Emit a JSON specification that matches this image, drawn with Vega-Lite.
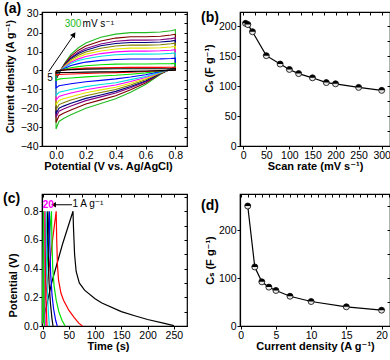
{
"$schema":"https://vega.github.io/schema/vega-lite/v6.json",
"padding":{"left":2,"top":1,"right":0,"bottom":0},
"columns":2,
"spacing":{"row":48,"column":53},
"bounds":"flush",
"config":{
 "font":"Liberation Sans, DejaVu Sans, sans-serif",
 "view":{"stroke":"black","strokeWidth":1.2},
 "axis":{"grid":false,"domainColor":"black","tickColor":"black","labelColor":"black","titleColor":"black","labelFontSize":10.5,"titleFontSize":11,"titleFontWeight":"bold","tickSize":3,"labelPadding":1,"domainWidth":1.2,"tickWidth":1,"titlePadding":0,"labelFlush":false,"labelOverlap":false},
 "title":{"fontSize":14,"fontWeight":"bold","anchor":"start","frame":"group","color":"black","baseline":"bottom","offset":0}
},
"concat":[
{
 "width":145,"height":134,
 "title":{"text":"(a)","dx":-38,"dy":11},
 "resolve":{"axis":{"x":"independent","y":"independent"}},
 "layer":[
 {"data":{"values":[
{"r":300,"o":0,"x":0,"y":-5},{"r":300,"o":1,"x":0.03,"y":0},{"r":300,"o":2,"x":0.06,"y":4},{"r":300,"o":3,"x":0.1,"y":8.5},{"r":300,"o":4,"x":0.15,"y":12},{"r":300,"o":5,"x":0.2,"y":14.5},{"r":300,"o":6,"x":0.3,"y":17.5},{"r":300,"o":7,"x":0.4,"y":19.2},{"r":300,"o":8,"x":0.5,"y":20},{"r":300,"o":9,"x":0.6,"y":20},{"r":300,"o":10,"x":0.7,"y":20.3},{"r":300,"o":11,"x":0.77,"y":21},{"r":300,"o":12,"x":0.8,"y":21.5},{"r":300,"o":13,"x":0.8,"y":2},{"r":300,"o":14,"x":0.76,"y":0.5},{"r":300,"o":15,"x":0.7,"y":-2},{"r":300,"o":16,"x":0.6,"y":-7.5},{"r":300,"o":17,"x":0.5,"y":-11.5},{"r":300,"o":18,"x":0.4,"y":-15},{"r":300,"o":19,"x":0.3,"y":-17.5},{"r":300,"o":20,"x":0.2,"y":-20},{"r":300,"o":21,"x":0.1,"y":-23.5},{"r":300,"o":22,"x":0.05,"y":-25.5},{"r":300,"o":23,"x":0.02,"y":-27},{"r":300,"o":24,"x":0,"y":-31},{"r":300,"o":25,"x":0,"y":-5},
{"r":250,"o":0,"x":0,"y":-4.5},{"r":250,"o":1,"x":0.03,"y":0},{"r":250,"o":2,"x":0.06,"y":3.6},{"r":250,"o":3,"x":0.1,"y":7.6},{"r":250,"o":4,"x":0.15,"y":10.7},{"r":250,"o":5,"x":0.2,"y":12.9},{"r":250,"o":6,"x":0.3,"y":15.6},{"r":250,"o":7,"x":0.4,"y":17.1},{"r":250,"o":8,"x":0.5,"y":17.8},{"r":250,"o":9,"x":0.6,"y":17.8},{"r":250,"o":10,"x":0.7,"y":18.1},{"r":250,"o":11,"x":0.77,"y":18.7},{"r":250,"o":12,"x":0.8,"y":19.1},{"r":250,"o":13,"x":0.8,"y":1.8},{"r":250,"o":14,"x":0.76,"y":0.4},{"r":250,"o":15,"x":0.7,"y":-1.8},{"r":250,"o":16,"x":0.6,"y":-6.7},{"r":250,"o":17,"x":0.5,"y":-10.2},{"r":250,"o":18,"x":0.4,"y":-13.4},{"r":250,"o":19,"x":0.3,"y":-15.6},{"r":250,"o":20,"x":0.2,"y":-17.8},{"r":250,"o":21,"x":0.1,"y":-20.9},{"r":250,"o":22,"x":0.05,"y":-22.7},{"r":250,"o":23,"x":0.02,"y":-24},{"r":250,"o":24,"x":0,"y":-27.6},{"r":250,"o":25,"x":0,"y":-4.5},
{"r":200,"o":0,"x":0,"y":-4},{"r":200,"o":1,"x":0.03,"y":0},{"r":200,"o":2,"x":0.06,"y":3.2},{"r":200,"o":3,"x":0.1,"y":6.8},{"r":200,"o":4,"x":0.15,"y":9.6},{"r":200,"o":5,"x":0.2,"y":11.6},{"r":200,"o":6,"x":0.3,"y":14},{"r":200,"o":7,"x":0.4,"y":15.4},{"r":200,"o":8,"x":0.5,"y":16},{"r":200,"o":9,"x":0.6,"y":16},{"r":200,"o":10,"x":0.7,"y":16.2},{"r":200,"o":11,"x":0.77,"y":16.8},{"r":200,"o":12,"x":0.8,"y":17.2},{"r":200,"o":13,"x":0.8,"y":1.6},{"r":200,"o":14,"x":0.76,"y":0.4},{"r":200,"o":15,"x":0.7,"y":-1.6},{"r":200,"o":16,"x":0.6,"y":-6},{"r":200,"o":17,"x":0.5,"y":-9.2},{"r":200,"o":18,"x":0.4,"y":-12},{"r":200,"o":19,"x":0.3,"y":-14},{"r":200,"o":20,"x":0.2,"y":-16},{"r":200,"o":21,"x":0.1,"y":-18.8},{"r":200,"o":22,"x":0.05,"y":-20.4},{"r":200,"o":23,"x":0.02,"y":-21.6},{"r":200,"o":24,"x":0,"y":-24.8},{"r":200,"o":25,"x":0,"y":-4},
{"r":180,"o":0,"x":0,"y":-3.7},{"r":180,"o":1,"x":0.03,"y":0},{"r":180,"o":2,"x":0.06,"y":3},{"r":180,"o":3,"x":0.1,"y":6.3},{"r":180,"o":4,"x":0.15,"y":8.9},{"r":180,"o":5,"x":0.2,"y":10.7},{"r":180,"o":6,"x":0.3,"y":13},{"r":180,"o":7,"x":0.4,"y":14.2},{"r":180,"o":8,"x":0.5,"y":14.8},{"r":180,"o":9,"x":0.6,"y":14.8},{"r":180,"o":10,"x":0.7,"y":15},{"r":180,"o":11,"x":0.77,"y":15.5},{"r":180,"o":12,"x":0.8,"y":15.9},{"r":180,"o":13,"x":0.8,"y":1.5},{"r":180,"o":14,"x":0.76,"y":0.4},{"r":180,"o":15,"x":0.7,"y":-1.5},{"r":180,"o":16,"x":0.6,"y":-5.6},{"r":180,"o":17,"x":0.5,"y":-8.5},{"r":180,"o":18,"x":0.4,"y":-11.1},{"r":180,"o":19,"x":0.3,"y":-13},{"r":180,"o":20,"x":0.2,"y":-14.8},{"r":180,"o":21,"x":0.1,"y":-17.4},{"r":180,"o":22,"x":0.05,"y":-18.9},{"r":180,"o":23,"x":0.02,"y":-20},{"r":180,"o":24,"x":0,"y":-22.9},{"r":180,"o":25,"x":0,"y":-3.7},
{"r":150,"o":0,"x":0,"y":-3.4},{"r":150,"o":1,"x":0.03,"y":0},{"r":150,"o":2,"x":0.06,"y":2.7},{"r":150,"o":3,"x":0.1,"y":5.7},{"r":150,"o":4,"x":0.15,"y":8},{"r":150,"o":5,"x":0.2,"y":9.7},{"r":150,"o":6,"x":0.3,"y":11.7},{"r":150,"o":7,"x":0.4,"y":12.9},{"r":150,"o":8,"x":0.5,"y":13.4},{"r":150,"o":9,"x":0.6,"y":13.4},{"r":150,"o":10,"x":0.7,"y":13.6},{"r":150,"o":11,"x":0.77,"y":14.1},{"r":150,"o":12,"x":0.8,"y":14.4},{"r":150,"o":13,"x":0.8,"y":1.3},{"r":150,"o":14,"x":0.76,"y":0.3},{"r":150,"o":15,"x":0.7,"y":-1.3},{"r":150,"o":16,"x":0.6,"y":-5},{"r":150,"o":17,"x":0.5,"y":-7.7},{"r":150,"o":18,"x":0.4,"y":-10.1},{"r":150,"o":19,"x":0.3,"y":-11.7},{"r":150,"o":20,"x":0.2,"y":-13.4},{"r":150,"o":21,"x":0.1,"y":-15.7},{"r":150,"o":22,"x":0.05,"y":-17.1},{"r":150,"o":23,"x":0.02,"y":-18.1},{"r":150,"o":24,"x":0,"y":-20.8},{"r":150,"o":25,"x":0,"y":-3.4},
{"r":120,"o":0,"x":0,"y":-3},{"r":120,"o":1,"x":0.03,"y":0},{"r":120,"o":2,"x":0.06,"y":2.4},{"r":120,"o":3,"x":0.1,"y":5},{"r":120,"o":4,"x":0.15,"y":7.1},{"r":120,"o":5,"x":0.2,"y":8.6},{"r":120,"o":6,"x":0.3,"y":10.3},{"r":120,"o":7,"x":0.4,"y":11.3},{"r":120,"o":8,"x":0.5,"y":11.8},{"r":120,"o":9,"x":0.6,"y":11.8},{"r":120,"o":10,"x":0.7,"y":12},{"r":120,"o":11,"x":0.77,"y":12.4},{"r":120,"o":12,"x":0.8,"y":12.7},{"r":120,"o":13,"x":0.8,"y":1.2},{"r":120,"o":14,"x":0.76,"y":0.3},{"r":120,"o":15,"x":0.7,"y":-1.2},{"r":120,"o":16,"x":0.6,"y":-4.4},{"r":120,"o":17,"x":0.5,"y":-6.8},{"r":120,"o":18,"x":0.4,"y":-8.9},{"r":120,"o":19,"x":0.3,"y":-10.3},{"r":120,"o":20,"x":0.2,"y":-11.8},{"r":120,"o":21,"x":0.1,"y":-13.9},{"r":120,"o":22,"x":0.05,"y":-15},{"r":120,"o":23,"x":0.02,"y":-15.9},{"r":120,"o":24,"x":0,"y":-18.3},{"r":120,"o":25,"x":0,"y":-3},
{"r":100,"o":0,"x":0,"y":-2.6},{"r":100,"o":1,"x":0.03,"y":0},{"r":100,"o":2,"x":0.06,"y":2},{"r":100,"o":3,"x":0.1,"y":4.3},{"r":100,"o":4,"x":0.15,"y":6.1},{"r":100,"o":5,"x":0.2,"y":7.4},{"r":100,"o":6,"x":0.3,"y":8.9},{"r":100,"o":7,"x":0.4,"y":9.8},{"r":100,"o":8,"x":0.5,"y":10.2},{"r":100,"o":9,"x":0.6,"y":10.2},{"r":100,"o":10,"x":0.7,"y":10.4},{"r":100,"o":11,"x":0.77,"y":10.7},{"r":100,"o":12,"x":0.8,"y":11},{"r":100,"o":13,"x":0.8,"y":1},{"r":100,"o":14,"x":0.76,"y":0.3},{"r":100,"o":15,"x":0.7,"y":-1},{"r":100,"o":16,"x":0.6,"y":-3.8},{"r":100,"o":17,"x":0.5,"y":-5.9},{"r":100,"o":18,"x":0.4,"y":-7.7},{"r":100,"o":19,"x":0.3,"y":-8.9},{"r":100,"o":20,"x":0.2,"y":-10.2},{"r":100,"o":21,"x":0.1,"y":-12},{"r":100,"o":22,"x":0.05,"y":-13},{"r":100,"o":23,"x":0.02,"y":-13.8},{"r":100,"o":24,"x":0,"y":-15.8},{"r":100,"o":25,"x":0,"y":-2.6},
{"r":80,"o":0,"x":0,"y":-2.2},{"r":80,"o":1,"x":0.03,"y":0},{"r":80,"o":2,"x":0.06,"y":1.7},{"r":80,"o":3,"x":0.1,"y":3.7},{"r":80,"o":4,"x":0.15,"y":5.2},{"r":80,"o":5,"x":0.2,"y":6.2},{"r":80,"o":6,"x":0.3,"y":7.5},{"r":80,"o":7,"x":0.4,"y":8.3},{"r":80,"o":8,"x":0.5,"y":8.6},{"r":80,"o":9,"x":0.6,"y":8.6},{"r":80,"o":10,"x":0.7,"y":8.7},{"r":80,"o":11,"x":0.77,"y":9},{"r":80,"o":12,"x":0.8,"y":9.2},{"r":80,"o":13,"x":0.8,"y":0.9},{"r":80,"o":14,"x":0.76,"y":0.2},{"r":80,"o":15,"x":0.7,"y":-0.9},{"r":80,"o":16,"x":0.6,"y":-3.2},{"r":80,"o":17,"x":0.5,"y":-4.9},{"r":80,"o":18,"x":0.4,"y":-6.5},{"r":80,"o":19,"x":0.3,"y":-7.5},{"r":80,"o":20,"x":0.2,"y":-8.6},{"r":80,"o":21,"x":0.1,"y":-10.1},{"r":80,"o":22,"x":0.05,"y":-11},{"r":80,"o":23,"x":0.02,"y":-11.6},{"r":80,"o":24,"x":0,"y":-13.3},{"r":80,"o":25,"x":0,"y":-2.2},
{"r":50,"o":0,"x":0,"y":-1.5},{"r":50,"o":1,"x":0.03,"y":0},{"r":50,"o":2,"x":0.06,"y":1.2},{"r":50,"o":3,"x":0.1,"y":2.6},{"r":50,"o":4,"x":0.15,"y":3.6},{"r":50,"o":5,"x":0.2,"y":4.4},{"r":50,"o":6,"x":0.3,"y":5.3},{"r":50,"o":7,"x":0.4,"y":5.8},{"r":50,"o":8,"x":0.5,"y":6},{"r":50,"o":9,"x":0.6,"y":6},{"r":50,"o":10,"x":0.7,"y":6.1},{"r":50,"o":11,"x":0.77,"y":6.3},{"r":50,"o":12,"x":0.8,"y":6.5},{"r":50,"o":13,"x":0.8,"y":0.6},{"r":50,"o":14,"x":0.76,"y":0.2},{"r":50,"o":15,"x":0.7,"y":-0.6},{"r":50,"o":16,"x":0.6,"y":-2.3},{"r":50,"o":17,"x":0.5,"y":-3.5},{"r":50,"o":18,"x":0.4,"y":-4.5},{"r":50,"o":19,"x":0.3,"y":-5.3},{"r":50,"o":20,"x":0.2,"y":-6},{"r":50,"o":21,"x":0.1,"y":-7.1},{"r":50,"o":22,"x":0.05,"y":-7.7},{"r":50,"o":23,"x":0.02,"y":-8.1},{"r":50,"o":24,"x":0,"y":-9.3},{"r":50,"o":25,"x":0,"y":-1.5},
{"r":20,"o":0,"x":0,"y":-0.9},{"r":20,"o":1,"x":0.03,"y":0},{"r":20,"o":2,"x":0.06,"y":0.7},{"r":20,"o":3,"x":0.1,"y":1.4},{"r":20,"o":4,"x":0.15,"y":2},{"r":20,"o":5,"x":0.2,"y":2.5},{"r":20,"o":6,"x":0.3,"y":3},{"r":20,"o":7,"x":0.4,"y":3.3},{"r":20,"o":8,"x":0.5,"y":3.4},{"r":20,"o":9,"x":0.6,"y":3.4},{"r":20,"o":10,"x":0.7,"y":3.5},{"r":20,"o":11,"x":0.77,"y":3.6},{"r":20,"o":12,"x":0.8,"y":3.7},{"r":20,"o":13,"x":0.8,"y":0.3},{"r":20,"o":14,"x":0.76,"y":0.1},{"r":20,"o":15,"x":0.7,"y":-0.3},{"r":20,"o":16,"x":0.6,"y":-1.3},{"r":20,"o":17,"x":0.5,"y":-2},{"r":20,"o":18,"x":0.4,"y":-2.6},{"r":20,"o":19,"x":0.3,"y":-3},{"r":20,"o":20,"x":0.2,"y":-3.4},{"r":20,"o":21,"x":0.1,"y":-4},{"r":20,"o":22,"x":0.05,"y":-4.3},{"r":20,"o":23,"x":0.02,"y":-4.6},{"r":20,"o":24,"x":0,"y":-5.3},{"r":20,"o":25,"x":0,"y":-0.9},
{"r":10,"o":0,"x":0,"y":-0.4},{"r":10,"o":1,"x":0.03,"y":0},{"r":10,"o":2,"x":0.06,"y":0.3},{"r":10,"o":3,"x":0.1,"y":0.7},{"r":10,"o":4,"x":0.15,"y":1},{"r":10,"o":5,"x":0.2,"y":1.2},{"r":10,"o":6,"x":0.3,"y":1.4},{"r":10,"o":7,"x":0.4,"y":1.5},{"r":10,"o":8,"x":0.5,"y":1.6},{"r":10,"o":9,"x":0.6,"y":1.6},{"r":10,"o":10,"x":0.7,"y":1.6},{"r":10,"o":11,"x":0.77,"y":1.7},{"r":10,"o":12,"x":0.8,"y":1.7},{"r":10,"o":13,"x":0.8,"y":0.2},{"r":10,"o":14,"x":0.76,"y":0},{"r":10,"o":15,"x":0.7,"y":-0.2},{"r":10,"o":16,"x":0.6,"y":-0.6},{"r":10,"o":17,"x":0.5,"y":-0.9},{"r":10,"o":18,"x":0.4,"y":-1.2},{"r":10,"o":19,"x":0.3,"y":-1.4},{"r":10,"o":20,"x":0.2,"y":-1.6},{"r":10,"o":21,"x":0.1,"y":-1.9},{"r":10,"o":22,"x":0.05,"y":-2},{"r":10,"o":23,"x":0.02,"y":-2.2},{"r":10,"o":24,"x":0,"y":-2.5},{"r":10,"o":25,"x":0,"y":-0.4},
{"r":5,"o":0,"x":0,"y":-0.2},{"r":5,"o":1,"x":0.03,"y":0},{"r":5,"o":2,"x":0.06,"y":0.2},{"r":5,"o":3,"x":0.1,"y":0.4},{"r":5,"o":4,"x":0.15,"y":0.5},{"r":5,"o":5,"x":0.2,"y":0.7},{"r":5,"o":6,"x":0.3,"y":0.8},{"r":5,"o":7,"x":0.4,"y":0.9},{"r":5,"o":8,"x":0.5,"y":0.9},{"r":5,"o":9,"x":0.6,"y":0.9},{"r":5,"o":10,"x":0.7,"y":0.9},{"r":5,"o":11,"x":0.77,"y":0.9},{"r":5,"o":12,"x":0.8,"y":1},{"r":5,"o":13,"x":0.8,"y":0.1},{"r":5,"o":14,"x":0.76,"y":0},{"r":5,"o":15,"x":0.7,"y":-0.1},{"r":5,"o":16,"x":0.6,"y":-0.3},{"r":5,"o":17,"x":0.5,"y":-0.5},{"r":5,"o":18,"x":0.4,"y":-0.7},{"r":5,"o":19,"x":0.3,"y":-0.8},{"r":5,"o":20,"x":0.2,"y":-0.9},{"r":5,"o":21,"x":0.1,"y":-1.1},{"r":5,"o":22,"x":0.05,"y":-1.1},{"r":5,"o":23,"x":0.02,"y":-1.2},{"r":5,"o":24,"x":0,"y":-1.4},{"r":5,"o":25,"x":0,"y":-0.2}
 ]},
  "mark":{"type":"line","strokeWidth":1.1},
  "encoding":{
   "x":{"field":"x","type":"quantitative","scale":{"domain":[-0.094,0.878],"nice":false,"zero":false},"axis":{"title":"Potential (V vs. Ag/AgCl)","titleX":66,"values":[0,0.2,0.4,0.6,0.8],"format":".1f"}},
   "y":{"field":"y","type":"quantitative","scale":{"domain":[-40,30.9],"nice":false,"zero":false},"axis":{"title":"Current density (A g⁻¹)","titleFontSize":10.5,"titlePadding":5,"titleY":64,"values":[-40,-30,-20,-10,0,10,20,30]}},
   "color":{"field":"r","type":"nominal","legend":null,"scale":{"domain":[5,10,20,50,80,100,120,150,180,200,250,300],"range":["#000000","#ff0000","#00e000","#0000ff","#00e0e0","#ff00ff","#e6e600","#808000","#000080","#800080","#800000","#22bb22"]}},
   "order":{"field":"o","type":"quantitative"}
  }},
 {"data":{"values":[{"x1":-0.049,"y1":-0.6,"x2":0.118,"y2":18.6}]},
  "mark":{"type":"rule","color":"black","strokeWidth":1},
  "encoding":{
   "x":{"field":"x1","type":"quantitative","scale":{"domain":[-0.094,0.878],"nice":false,"zero":false},"axis":{"orient":"top","labels":false,"title":null,"domain":false,"tickSize":-3,"values":[-0.1,0,0.1,0.2,0.3,0.4,0.5,0.6,0.7,0.8]}},
   "y":{"field":"y1","type":"quantitative","scale":{"domain":[-40,30.9],"nice":false,"zero":false},"axis":{"orient":"right","labels":false,"title":null,"domain":false,"tickSize":-3,"values":[-40,-35,-30,-25,-20,-15,-10,-5,0,5,10,15,20,25,30]}},
   "x2":{"field":"x2"},"y2":{"field":"y2"}
  }},
 {"data":{"values":[{"x":0.12,"y":19}]},
  "mark":{"type":"point","shape":"triangle-up","filled":true,"color":"black","size":35,"angle":34,"opacity":1},
  "encoding":{
   "x":{"field":"x","type":"quantitative","scale":{"domain":[-0.094,0.878],"nice":false,"zero":false},"axis":null},
   "y":{"field":"y","type":"quantitative","scale":{"domain":[-40,30.9],"nice":false,"zero":false},"axis":null}
  }},
 {"data":{"values":[{"x":0.058,"y":24.4,"t":"300"}]},
  "mark":{"type":"text","align":"left","baseline":"middle","fontSize":10,"color":"#22bb22"},
  "encoding":{
   "x":{"field":"x","type":"quantitative","scale":{"domain":[-0.094,0.878],"nice":false,"zero":false},"axis":null},
   "y":{"field":"y","type":"quantitative","scale":{"domain":[-40,30.9],"nice":false,"zero":false},"axis":null},
   "text":{"field":"t"}
  }},
 {"data":{"values":[{"x":0.178,"y":24.6,"t":"mV s⁻¹"},{"x":-0.058,"y":-4,"t":"5"}]},
  "mark":{"type":"text","align":"left","baseline":"middle","fontSize":10,"color":"black"},
  "encoding":{
   "x":{"field":"x","type":"quantitative","scale":{"domain":[-0.094,0.878],"nice":false,"zero":false},"axis":null},
   "y":{"field":"y","type":"quantitative","scale":{"domain":[-40,30.9],"nice":false,"zero":false},"axis":null},
   "text":{"field":"t"}
  }}
 ]
},
{
 "width":150,"height":134,
 "title":{"text":"(b)","dx":-39,"dy":17},
 "resolve":{"axis":{"x":"independent","y":"independent"}},
 "data":{"values":[{"s":5,"c":205},{"s":10,"c":203},{"s":20,"c":191},{"s":50,"c":151},{"s":80,"c":137},{"s":100,"c":128},{"s":120,"c":121},{"s":150,"c":114},{"s":180,"c":106},{"s":200,"c":104},{"s":250,"c":98},{"s":300,"c":93}]},
 "layer":[
 {"mark":{"type":"line","color":"black","strokeWidth":1.2},
  "encoding":{
   "x":{"field":"s","type":"quantitative","scale":{"domain":[-7,318],"nice":false,"zero":false},"axis":{"title":"Scan rate (mV s⁻¹)","values":[0,50,100,150,200,250,300]}},
   "y":{"field":"c","type":"quantitative","scale":{"domain":[0,224],"nice":false,"zero":false},"axis":{"title":"Cₛ (F g⁻¹)","titlePadding":4,"titleY":56,"values":[0,50,100,150,200]}}
  }},
 {"mark":{"type":"point","shape":"circle","filled":true,"fill":"#e8e8e8","stroke":"black","strokeWidth":0.8,"size":36,"opacity":1},
  "encoding":{
   "x":{"field":"s","type":"quantitative","scale":{"domain":[-7,318],"nice":false,"zero":false},"axis":{"orient":"top","labels":false,"title":null,"domain":false,"tickSize":-3,"values":[0,25,50,75,100,125,150,175,200,225,250,275,300]}},
   "y":{"field":"c","type":"quantitative","scale":{"domain":[0,224],"nice":false,"zero":false},"axis":{"orient":"right","labels":false,"title":null,"domain":false,"tickSize":-3,"values":[0,25,50,75,100,125,150,175,200]}}
  }},
 {"mark":{"type":"point","shape":"M -1 0 A 1 1 0 0 1 1 0 Z","filled":true,"color":"black","size":36,"opacity":1},
  "encoding":{
   "x":{"field":"s","type":"quantitative","scale":{"domain":[-7,318],"nice":false,"zero":false},"axis":null},
   "y":{"field":"c","type":"quantitative","scale":{"domain":[0,224],"nice":false,"zero":false},"axis":null}
  }}
 ]
},
{
 "width":145,"height":132,
 "title":{"text":"(c)","dx":-39,"dy":16},
 "resolve":{"axis":{"x":"independent","y":"independent"}},
 "layer":[
 {"data":{"values":[
{"i":1,"o":0,"t":0,"v":0.02},{"i":1,"o":1,"t":5,"v":0.1},{"i":1,"o":2,"t":18,"v":0.31},{"i":1,"o":3,"t":38,"v":0.57},{"i":1,"o":4,"t":58,"v":0.8},{"i":1,"o":5,"t":59,"v":0.68},{"i":1,"o":6,"t":61,"v":0.5},{"i":1,"o":7,"t":64,"v":0.38},{"i":1,"o":8,"t":70,"v":0.3},{"i":1,"o":9,"t":80,"v":0.25},{"i":1,"o":10,"t":100,"v":0.19},{"i":1,"o":11,"t":113,"v":0.16},{"i":1,"o":12,"t":150,"v":0.1},{"i":1,"o":13,"t":177,"v":0.07},{"i":1,"o":14,"t":200,"v":0.045},{"i":1,"o":15,"t":230,"v":0.02},{"i":1,"o":16,"t":250,"v":0.003},
{"i":2,"o":0,"t":0,"v":0.02},{"i":2,"o":1,"t":3,"v":0.12},{"i":2,"o":2,"t":10,"v":0.33},{"i":2,"o":3,"t":18,"v":0.57},{"i":2,"o":4,"t":26,"v":0.8},{"i":2,"o":5,"t":27,"v":0.6},{"i":2,"o":6,"t":28.5,"v":0.42},{"i":2,"o":7,"t":30.5,"v":0.32},{"i":2,"o":8,"t":35,"v":0.23},{"i":2,"o":9,"t":40,"v":0.18},{"i":2,"o":10,"t":50,"v":0.11},{"i":2,"o":11,"t":60,"v":0.06},{"i":2,"o":12,"t":69,"v":0.02},{"i":2,"o":13,"t":76,"v":0},
{"i":3,"o":0,"t":0,"v":0.02},{"i":3,"o":1,"t":8,"v":0.4},{"i":3,"o":2,"t":17,"v":0.8},{"i":3,"o":3,"t":18,"v":0.58},{"i":3,"o":4,"t":19.5,"v":0.4},{"i":3,"o":5,"t":22,"v":0.28},{"i":3,"o":6,"t":26,"v":0.18},{"i":3,"o":7,"t":31,"v":0.1},{"i":3,"o":8,"t":37,"v":0.04},{"i":3,"o":9,"t":43,"v":0},
{"i":4,"o":0,"t":0,"v":0.02},{"i":4,"o":1,"t":6,"v":0.38},{"i":4,"o":2,"t":13,"v":0.8},{"i":4,"o":3,"t":14,"v":0.55},{"i":4,"o":4,"t":15.5,"v":0.36},{"i":4,"o":5,"t":18,"v":0.22},{"i":4,"o":6,"t":21,"v":0.12},{"i":4,"o":7,"t":25,"v":0.04},{"i":4,"o":8,"t":28,"v":0},
{"i":5,"o":0,"t":0,"v":0.02},{"i":5,"o":1,"t":5,"v":0.4},{"i":5,"o":2,"t":10,"v":0.8},{"i":5,"o":3,"t":11,"v":0.5},{"i":5,"o":4,"t":12.5,"v":0.3},{"i":5,"o":5,"t":15,"v":0.16},{"i":5,"o":6,"t":18,"v":0.05},{"i":5,"o":7,"t":20,"v":0},
{"i":7,"o":0,"t":0,"v":0.02},{"i":7,"o":1,"t":3.5,"v":0.4},{"i":7,"o":2,"t":7,"v":0.8},{"i":7,"o":3,"t":7.8,"v":0.45},{"i":7,"o":4,"t":9,"v":0.26},{"i":7,"o":5,"t":11,"v":0.1},{"i":7,"o":6,"t":13,"v":0},
{"i":10,"o":0,"t":0,"v":0.02},{"i":10,"o":1,"t":4.5,"v":0.8},{"i":10,"o":2,"t":5.2,"v":0.42},{"i":10,"o":3,"t":6.5,"v":0.2},{"i":10,"o":4,"t":8.5,"v":0},
{"i":15,"o":0,"t":0,"v":0.02},{"i":15,"o":1,"t":2.8,"v":0.8},{"i":15,"o":2,"t":3.4,"v":0.4},{"i":15,"o":3,"t":4.3,"v":0.15},{"i":15,"o":4,"t":5.5,"v":0},
{"i":20,"o":0,"t":0,"v":0.02},{"i":20,"o":1,"t":1.8,"v":0.8},{"i":20,"o":2,"t":2.3,"v":0.4},{"i":20,"o":3,"t":3.5,"v":0}
 ]},
  "mark":{"type":"line","strokeWidth":1.2},
  "encoding":{
   "x":{"field":"t","type":"quantitative","scale":{"domain":[-1,275],"nice":false,"zero":false},"axis":{"title":"Time (s)","titleX":66,"values":[0,50,100,150,200,250]}},
   "y":{"field":"v","type":"quantitative","scale":{"domain":[0,0.92],"nice":false,"zero":false},"axis":{"title":"Potential (V)","titlePadding":5,"titleY":91,"values":[0,0.2,0.4,0.6,0.8],"format":".1f"}},
   "color":{"field":"i","type":"nominal","legend":null,"scale":{"domain":[1,2,3,4,5,7,10,15,20],"range":["#000000","#ff0000","#00dd00","#0000ff","#00dddd","#dddd00","#8000ff","#ff66cc","#ff00ff"]}},
   "order":{"field":"o","type":"quantitative"}
  }},
 {"data":{"values":[{"t1":20,"t2":56,"v":0.845}]},
  "mark":{"type":"rule","color":"black","strokeWidth":1},
  "encoding":{
   "x":{"field":"t1","type":"quantitative","scale":{"domain":[-1,275],"nice":false,"zero":false},"axis":{"orient":"top","labels":false,"title":null,"domain":false,"tickSize":-3,"values":[0,25,50,75,100,125,150,175,200,225,250,275]}},
   "x2":{"field":"t2"},
   "y":{"field":"v","type":"quantitative","scale":{"domain":[0,0.92],"nice":false,"zero":false},"axis":{"orient":"right","labels":false,"title":null,"domain":false,"tickSize":-3,"values":[0,0.1,0.2,0.3,0.4,0.5,0.6,0.7,0.8,0.9]}}
  }},
 {"data":{"values":[{"t":21,"v":0.845}]},
  "mark":{"type":"point","shape":"triangle-left","filled":true,"color":"black","size":30,"opacity":1},
  "encoding":{
   "x":{"field":"t","type":"quantitative","scale":{"domain":[-1,275],"nice":false,"zero":false},"axis":null},
   "y":{"field":"v","type":"quantitative","scale":{"domain":[0,0.92],"nice":false,"zero":false},"axis":null}
  }},
 {"data":{"values":[{"t":0.5,"v":0.845,"s":"20"}]},
  "mark":{"type":"text","align":"left","baseline":"middle","fontSize":10,"fontWeight":"bold","color":"#ff00ff"},
  "encoding":{
   "x":{"field":"t","type":"quantitative","scale":{"domain":[-1,275],"nice":false,"zero":false},"axis":null},
   "y":{"field":"v","type":"quantitative","scale":{"domain":[0,0.92],"nice":false,"zero":false},"axis":null},
   "text":{"field":"s"}
  }},
 {"data":{"values":[{"t":57,"v":0.85,"s":"1 A g⁻¹"}]},
  "mark":{"type":"text","align":"left","baseline":"middle","fontSize":10,"color":"black"},
  "encoding":{
   "x":{"field":"t","type":"quantitative","scale":{"domain":[-1,275],"nice":false,"zero":false},"axis":null},
   "y":{"field":"v","type":"quantitative","scale":{"domain":[0,0.92],"nice":false,"zero":false},"axis":null},
   "text":{"field":"s"}
  }}
 ]
},
{
 "width":150,"height":132,
 "title":{"text":"(d)","dx":-39,"dy":23},
 "resolve":{"axis":{"x":"independent","y":"independent"}},
 "data":{"values":[{"j":1,"c":250},{"j":2,"c":123},{"j":3,"c":92},{"j":4,"c":81},{"j":5,"c":74},{"j":7,"c":62},{"j":10,"c":51},{"j":15,"c":40},{"j":20,"c":33}]},
 "layer":[
 {"mark":{"type":"line","color":"black","strokeWidth":1.2},
  "encoding":{
   "x":{"field":"j","type":"quantitative","scale":{"domain":[-0.1,21.2],"nice":false,"zero":false},"axis":{"title":"Current density (A g⁻¹)","values":[0,5,10,15,20]}},
   "y":{"field":"c","type":"quantitative","scale":{"domain":[0,275],"nice":false,"zero":false},"axis":{"title":"Cₛ (F g⁻¹)","titlePadding":3,"values":[0,100,200]}}
  }},
 {"mark":{"type":"point","shape":"circle","filled":true,"fill":"#e8e8e8","stroke":"black","strokeWidth":0.8,"size":36,"opacity":1},
  "encoding":{
   "x":{"field":"j","type":"quantitative","scale":{"domain":[-0.1,21.2],"nice":false,"zero":false},"axis":{"orient":"top","labels":false,"title":null,"domain":false,"tickSize":-3,"values":[0,1,2,3,4,5,6,7,8,9,10,11,12,13,14,15,16,17,18,19,20,21]}},
   "y":{"field":"c","type":"quantitative","scale":{"domain":[0,275],"nice":false,"zero":false},"axis":{"orient":"right","labels":false,"title":null,"domain":false,"tickSize":-3,"values":[0,50,100,150,200,250]}}
  }},
 {"mark":{"type":"point","shape":"M -1 0 A 1 1 0 0 1 1 0 Z","filled":true,"color":"black","size":36,"opacity":1},
  "encoding":{
   "x":{"field":"j","type":"quantitative","scale":{"domain":[-0.1,21.2],"nice":false,"zero":false},"axis":null},
   "y":{"field":"c","type":"quantitative","scale":{"domain":[0,275],"nice":false,"zero":false},"axis":null}
  }}
 ]
}
]
}
